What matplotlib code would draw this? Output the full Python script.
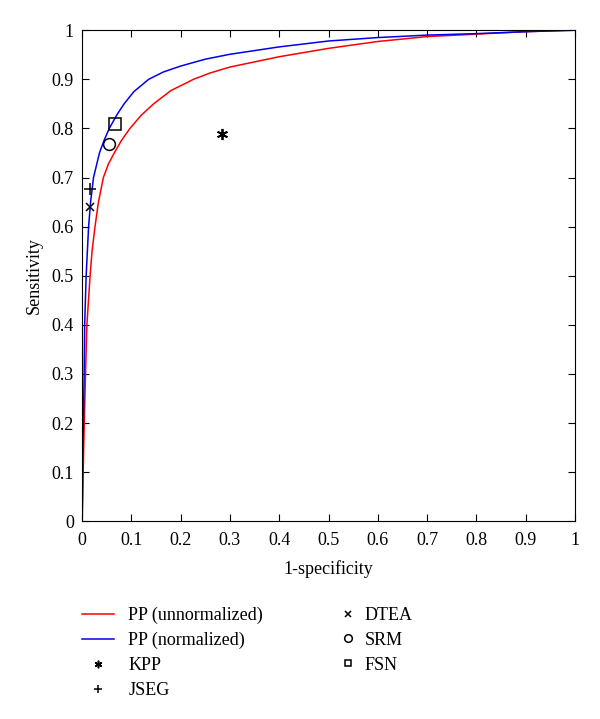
import numpy as np
import matplotlib.pyplot as plt
from matplotlib.lines import Line2D

plt.rcParams['font.family'] = ['Liberation Serif', 'DejaVu Serif']

# ROC curves
red_x = [0, 0.003, 0.0067, 0.0095, 0.016, 0.02, 0.026, 0.033, 0.043, 0.053, 0.065, 0.08, 0.097, 0.12, 0.145, 0.18, 0.226, 0.26, 0.3, 0.4, 0.5, 0.6, 0.7, 0.8, 0.9, 1.0]
red_y = [0, 0.15, 0.3, 0.4, 0.5, 0.55, 0.6, 0.65, 0.7, 0.727, 0.75, 0.776, 0.8, 0.827, 0.85, 0.877, 0.9, 0.913, 0.925, 0.946, 0.963, 0.977, 0.987, 0.992, 0.997, 1.0]
blue_x = [0, 0.0015, 0.004, 0.005, 0.008, 0.013, 0.017, 0.023, 0.035, 0.045, 0.055, 0.07, 0.085, 0.105, 0.135, 0.165, 0.2, 0.25, 0.3, 0.4, 0.5, 0.6, 0.7, 0.8, 0.9, 1.0]
blue_y = [0, 0.15, 0.3, 0.4, 0.5, 0.6, 0.65, 0.7, 0.75, 0.777, 0.8, 0.827, 0.85, 0.875, 0.9, 0.915, 0.927, 0.941, 0.951, 0.966, 0.978, 0.985, 0.99, 0.993, 0.997, 1.0]

# single methods (1-specificity, sensitivity)
kpp = (0.283, 0.788)
jseg = (0.016, 0.676)
dtea = (0.015, 0.639)
srm = (0.055, 0.768)
fsn = (0.066, 0.81)

fig = plt.figure(figsize=(6, 7.19), dpi=100)
ax = fig.add_axes([0.137, 0.275, 0.821, 0.683])

ax.plot(red_x, red_y, color='#ff0000', lw=1.1)
ax.plot(blue_x, blue_y, color='#0000ee', lw=1.1)
ax.plot(*kpp, ls='none', marker=(6, 2, 0), color='black', ms=8, mew=1.3)
ax.plot(*jseg, ls='none', marker='+', color='black', ms=8, mew=1.1)
ax.plot(*dtea, ls='none', marker='x', color='black', ms=5.5, mew=1.1)
ax.plot(*srm, ls='none', marker='o', mfc='none', mec='black', ms=8.5, mew=1.1)
ax.plot(*fsn, ls='none', marker='s', mfc='none', mec='black', ms=8, mew=1.1)

ticks = np.arange(0, 1.01, 0.1)
tick_labels = ['0', '0.1', '0.2', '0.3', '0.4', '0.5', '0.6', '0.7', '0.8', '0.9', '1']
ax.set_xlim(0, 1)
ax.set_ylim(0, 1)
ax.set_xticks(ticks)
ax.set_yticks(ticks)
ax.set_xticklabels(tick_labels)
ax.set_yticklabels(tick_labels)
ax.tick_params(axis='x', direction='in', top=True, labelsize=13, length=5, pad=8)
ax.tick_params(axis='y', direction='in', right=True, labelsize=13, length=5, pad=6)
ax.set_xlabel('1-specificity', fontsize=13, labelpad=8)
ax.set_ylabel('Sensitivity', fontsize=13, labelpad=6)

# legend handles (smaller markers as in the original)
h1 = [Line2D([], [], color='#ff0000', lw=1.1),
      Line2D([], [], color='#0000ee', lw=1.1),
      Line2D([], [], ls='none', marker=(6, 2, 0), color='black', ms=5.5, mew=1.1),
      Line2D([], [], ls='none', marker='+', color='black', ms=5.5, mew=1.1)]
h2 = [Line2D([], [], ls='none', marker='x', color='black', ms=4.5, mew=1.1),
      Line2D([], [], ls='none', marker='o', mfc='none', mec='black', ms=5.5, mew=1.1),
      Line2D([], [], ls='none', marker='s', mfc='none', mec='black', ms=5, mew=1.1)]

fig.legend(h1, ['PP (unnormalized)', 'PP (normalized)', 'KPP', 'JSEG'],
           loc='upper left', bbox_to_anchor=(0.137, 0.156),
           frameon=False, fontsize=13, handlelength=1.75, handletextpad=0.8,
           labelspacing=0.44, borderpad=0, borderaxespad=0)
fig.legend(h2, ['DTEA', 'SRM', 'FSN'],
           loc='upper left', bbox_to_anchor=(0.565, 0.156),
           frameon=False, fontsize=13, handlelength=1.0, handletextpad=0.4,
           labelspacing=0.44, borderpad=0, borderaxespad=0)

fig.savefig('out.png', dpi=100)
